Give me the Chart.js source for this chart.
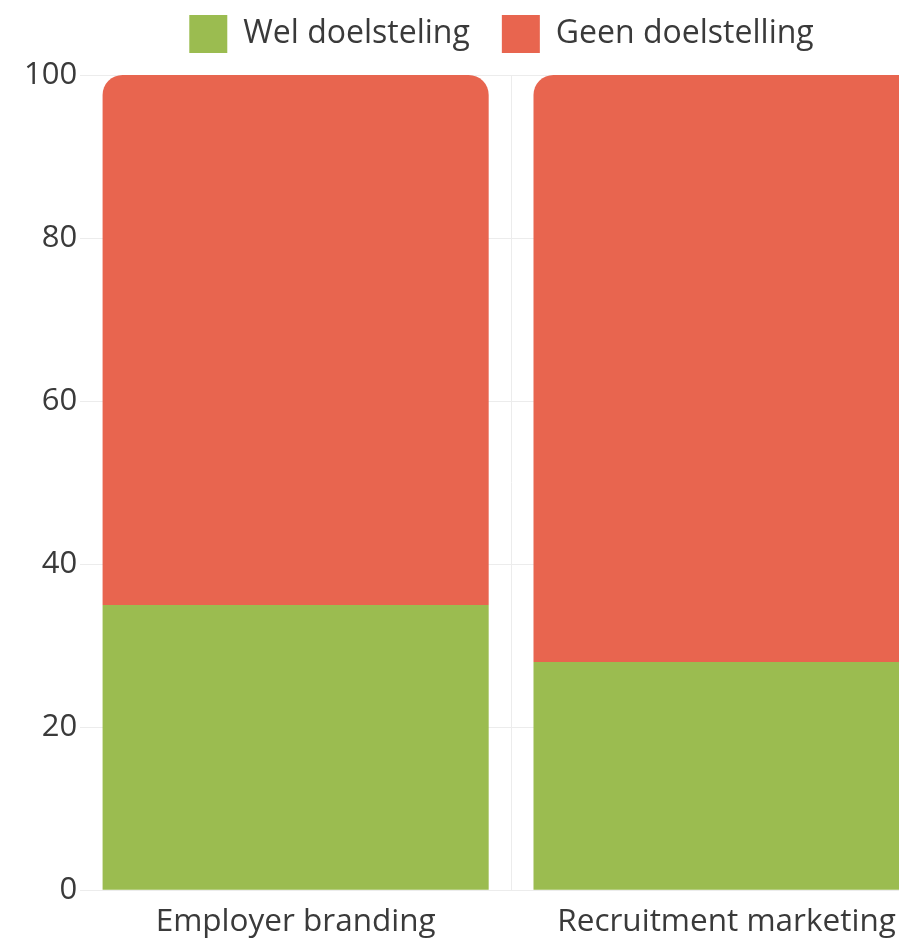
<!DOCTYPE html>
<html>
<head>
<meta charset="utf-8">
<script src="https://cdn.jsdelivr.net/npm/chart.js@4/dist/chart.umd.min.js"></script>
<style>
	body { margin: 0; background: #fff; overflow: hidden; }
	#wrap { width: 1012px; height: 943px; }
</style>
</head>
<body>
<div id="wrap"><canvas id="bars" width="1012" height="943"></canvas></div>
<script>
var categories = ["Employer branding", "Recruitment marketing"];
var welValues = [35, 28];
var geenValues = [65, 72];
var seriesNames = ["Wel doelsteling", "Geen doelstelling"];
var yTicks = [0, 20, 40, 60, 80, 100];

var green = "#9bbc50";
var red = "#e8654f";
var textColor = "#3a3a3a";
var fontFamily = "'Open Sans', sans-serif";

// legend: fixed height and a small shift to the right
var legendTweak = {
	id: "legendTweak",
	beforeInit: function(chart)
	{
		var oldFit = chart.legend.fit;
		chart.legend.fit = function()
		{
			oldFit.bind(chart.legend)();
			this.height = 92;
		};
	},
	afterLayout: function(chart)
	{
		chart.legend.left += 20;
		chart.legend.right += 20;
	}
};

var bars = new Chart(document.getElementById("bars"),
{
	type: "bar",
	data:
	{
		labels: categories,
		datasets:
		[{
			label: seriesNames[0],
			data: welValues,
			backgroundColor: green,
			borderRadius: 0,
			barPercentage: 1,
			categoryPercentage: 0.896
		},
		{
			label: seriesNames[1],
			data: geenValues,
			backgroundColor: red,
			borderRadius: {topLeft: 20, topRight: 20, bottomLeft: 0, bottomRight: 0},
			borderSkipped: false,
			barPercentage: 1,
			categoryPercentage: 0.896
		}]
	},
	options:
	{
		responsive: false,
		animation: false,
		layout: { padding: { left: 21, right: 70, top: -17, bottom: -11 } },
		plugins:
		{
			tooltip: { enabled: false },
			legend:
			{
				position: "top",
				labels:
				{
					boxWidth: 38,
					boxHeight: 38,
					padding: 32,
					color: textColor,
					font: { family: fontFamily, size: 32 }
				}
			}
		},
		scales:
		{
			x:
			{
				stacked: true,
				grid:
				{
					color: function(ctx) { return ctx.index === 0 ? "rgba(0,0,0,0)" : "#ececec"; },
					drawTicks: false
				},
				border: { display: false },
				ticks: { color: textColor, padding: 13, font: { family: fontFamily, size: 31.5 } }
			},
			y:
			{
				stacked: true,
				min: 0,
				max: 100,
				afterBuildTicks: function(axis)
				{
					axis.ticks = yTicks.map(function(v) { return {value: v}; });
				},
				grid: { color: "#ececec", drawTicks: false },
				border: { display: false },
				ticks: { color: textColor, padding: 3, font: { family: fontFamily, size: 31 } }
			}
		}
	},
	plugins: [legendTweak]
});
</script>
</body>
</html>
